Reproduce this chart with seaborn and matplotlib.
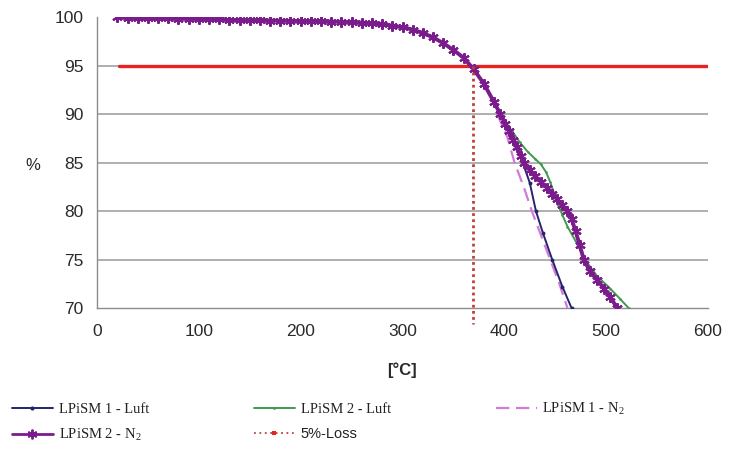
import matplotlib
matplotlib.use("Agg")
import matplotlib.pyplot as plt
from matplotlib.lines import Line2D
import seaborn as sns
import numpy as np

# ---- data ----
base_temp = [20, 30, 40, 50, 60, 70, 80, 90, 100, 110, 120, 130, 140, 150, 160, 170,
             180, 190, 200, 210, 220, 230, 240, 250, 260, 270, 280, 290, 300, 310,
             320, 330, 340, 350, 360, 370, 380, 390]
base_pct = [99.95, 99.9, 99.9, 99.88, 99.85, 99.85, 99.82, 99.8, 99.8, 99.78, 99.75,
            99.7, 99.68, 99.66, 99.65, 99.63, 99.62, 99.6, 99.58, 99.56, 99.55, 99.53,
            99.5, 99.47, 99.42, 99.35, 99.25, 99.1, 98.95, 98.7, 98.35, 97.9, 97.3,
            96.6, 95.8, 94.6, 93.1, 91.2]

l1_luft_temp = [396, 405, 412, 418, 425, 431, 438, 447, 457, 466]
l1_luft_pct = [90.0, 88.0, 86.4, 85.0, 82.9, 80.0, 77.7, 75.0, 72.2, 70.0]

l2_luft_temp = [396, 402, 408, 415, 423, 430, 436, 441, 445, 449, 453, 457, 462, 471, 479, 491, 504, 514, 522]
l2_luft_pct = [90.0, 89.0, 88.2, 87.1, 86.1, 85.4, 84.8, 84.0, 83.0, 81.8, 80.6, 79.6, 78.4, 76.7, 75.0, 73.3, 72.0, 70.9, 70.0]

l1_n2_temp = [393, 403, 410, 419, 427, 436, 445, 454, 462]
l1_n2_pct = [90.0, 87.6, 85.0, 82.5, 80.0, 77.5, 75.0, 72.5, 70.0]

l2_n2_temp = [396, 401, 405, 409, 412, 416, 419, 425, 430, 436, 442, 447, 452, 457,
              462, 466, 470, 474, 478, 484, 491, 498, 504, 511]
l2_n2_pct = [90.0, 89.0, 88.2, 87.3, 86.6, 85.7, 85.0, 84.2, 83.6, 83.0, 82.4, 81.8,
             81.2, 80.6, 80.0, 79.2, 77.9, 76.5, 75.0, 73.8, 72.9, 72.0, 71.1, 70.0]

loss_level = 95
loss_temp = 369
loss_start = 22
loss_end = 600
loss_bottom = 68.3

x_ticks = [0, 100, 200, 300, 400, 500, 600]
y_ticks = [70, 75, 80, 85, 90, 95, 100]

labels = ["LPiSM 1 - Luft", "LPiSM 2 - Luft", "LPiSM 1 - N$_2$", "LPiSM 2 - N$_2$", "5%-Loss"]

# ---- style ----
sns.set_style("white")
plt.rcParams["font.family"] = ["Liberation Sans", "DejaVu Sans"]
plt.rcParams["mathtext.fontset"] = "custom"
plt.rcParams["mathtext.rm"] = "Liberation Serif"
plt.rcParams["mathtext.it"] = "Liberation Serif:italic"

c_blue = "#25256e"
c_green = "#3f9a4e"
c_pink = "#d27ad8"
c_purple = "#7a1c8c"
c_red = "#e8231f"
c_dot = "#c0403a"

fig = plt.figure(figsize=(7.34, 4.57), dpi=100)
ax = fig.add_axes([97 / 734, 1 - 308 / 457, 611 / 734, 291 / 457])

# horizontal 5 % loss line
sns.lineplot(x=[loss_start, loss_end], y=[loss_level, loss_level], ax=ax,
             color=c_red, linewidth=2.4, zorder=2, legend=False)

def series(t, p):
    return list(base_temp) + list(t), list(base_pct) + list(p)

x, y = series(l1_n2_temp, l1_n2_pct)
sns.lineplot(x=x, y=y, ax=ax, sort=False, estimator=None, color=c_pink,
             linewidth=1.6, linestyle=(0, (6, 3)), zorder=3, legend=False)
x, y = series(l1_luft_temp, l1_luft_pct)
sns.lineplot(x=x, y=y, ax=ax, sort=False, estimator=None, color=c_blue,
             linewidth=1.4, marker="o", markersize=2.8, markeredgewidth=0, zorder=4, legend=False)
x, y = series(l2_luft_temp, l2_luft_pct)
sns.lineplot(x=x, y=y, ax=ax, sort=False, estimator=None, color=c_green,
             linewidth=1.4, marker="o", markersize=1.8, markeredgewidth=0, zorder=4, legend=False)
x, y = series(l2_n2_temp, l2_n2_pct)
sns.lineplot(x=x, y=y, ax=ax, sort=False, estimator=None, color=c_purple,
             linewidth=2.8, marker=(6, 2, 0), markersize=7.5, markeredgewidth=1.5,
             markeredgecolor=c_purple, zorder=5, legend=False)

# vertical dotted line
ax.plot([loss_temp, loss_temp], [loss_level, loss_bottom], color=c_dot,
        linewidth=2.0, linestyle=(0, (1, 1.2)), zorder=6, clip_on=False)

ax.set_xlim(0, 600)
ax.set_ylim(70, 100)
ax.set_xticks(x_ticks)
ax.set_yticks(y_ticks)

for s in ["top", "right"]:
    ax.spines[s].set_visible(False)
for s in ["left", "bottom"]:
    ax.spines[s].set_color("#8c8c8c")
    ax.spines[s].set_linewidth(1.0)

ax.tick_params(axis="both", direction="inout", length=7, width=1, color="#8c8c8c",
               labelsize=12.5, labelcolor="#2a2a2a")
ax.tick_params(axis="x", pad=8)
ax.tick_params(axis="y", pad=6)
ax.yaxis.grid(True, color="#a9a9a9", linewidth=1.3)
ax.xaxis.grid(False)
ax.set_axisbelow(True)
for gl, val in zip(ax.yaxis.get_gridlines(), y_ticks):
    if val in (70, 100):
        gl.set_visible(False)

ax.set_ylabel("%", rotation=0, fontsize=12, color="#2a2a2a", va="center", ha="center")
ax.yaxis.set_label_coords(-0.105, 0.49)
ax.set_xlabel("[°C]", fontsize=12, fontweight="bold", color="#2a2a2a")
ax.xaxis.set_label_coords(0.499, -0.186)

# legend
h_blue = Line2D([], [], color=c_blue, lw=1.4, marker="o", markersize=3, markeredgewidth=0)
h_green = Line2D([], [], color=c_green, lw=1.4, marker="o", markersize=2, markeredgewidth=0)
h_pink = Line2D([], [], color=c_pink, lw=1.6, linestyle=(0, (6, 3)))
h_purple = Line2D([], [], color=c_purple, lw=2.0, marker=(6, 2, 0), markersize=7,
                  markeredgewidth=1.4, markeredgecolor=c_purple)
h_loss = Line2D([], [], color=c_dot, lw=1.3, linestyle=(0, (1, 2)), marker="s",
                markersize=3, markerfacecolor=c_red, markeredgewidth=0)
handles = [h_blue, h_purple, h_green, h_loss, h_pink]
labs = [labels[0], labels[3], labels[1], labels[4], labels[2]]
leg = fig.legend(handles, labs, loc="upper left", bbox_to_anchor=(12 / 734, 1 - 401 / 457),
                 ncol=3, frameon=False, handlelength=2.8, handletextpad=0.4,
                 columnspacing=7.2, labelspacing=0.75, borderpad=0, borderaxespad=0,
                 prop={"family": ["Liberation Serif"], "size": 10.5})
for t in leg.get_texts():
    t.set_color("#222222")
    if t.get_text() == "5%-Loss":
        t.set_fontfamily(["Liberation Sans"])

fig.savefig("out.png", dpi=100)
